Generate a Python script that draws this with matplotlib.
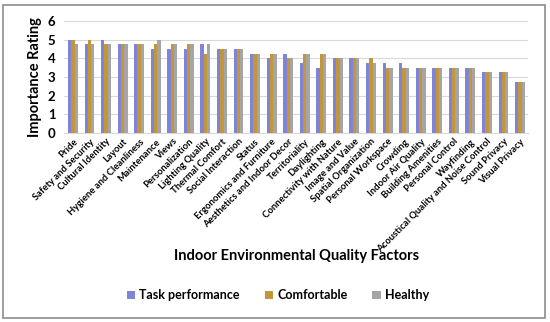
import matplotlib
matplotlib.use("Agg")
import matplotlib.pyplot as plt
from matplotlib.patches import Rectangle
import numpy as np

plt.rcParams['font.family'] = ['Lato', 'DejaVu Sans']

factors = ["Pride", "Safety and Security", "Cultural Identity", "Layout",
           "Hygiene and Cleanliness", "Maintenance", "Views", "Personalization",
           "Lighting Quality", "Thermal Comfort", "Social Interaction", "Status",
           "Ergonomics and Furniture", "Aesthetics and Indoor Decor", "Territoriality",
           "Daylighting", "Connectivity with Nature", "Image and Value",
           "Spatial Organization", "Personal Workspace", "Crowding",
           "Indoor Air Quality", "Building Amenities", "Personal Control",
           "Wayfinding", "Acoustical Quality and Noise Control", "Sound Privacy",
           "Visual Privacy"]

task_perf = [5.0, 4.75, 5.0, 4.75, 4.75, 4.5, 4.5, 4.5, 4.75, 4.5, 4.5, 4.25, 4.0, 4.25,
             3.75, 3.5, 4.0, 4.0, 3.75, 3.75, 3.75, 3.5, 3.5, 3.5, 3.5, 3.25, 3.25, 2.75]
comfortable = [5.0, 5.0, 4.75, 4.75, 4.75, 4.75, 4.75, 4.75, 4.25, 4.5, 4.5, 4.25, 4.25, 4.0,
               4.25, 4.25, 4.0, 4.0, 4.0, 3.5, 3.5, 3.5, 3.5, 3.5, 3.5, 3.25, 3.25, 2.75]
healthy = [4.75, 4.75, 4.75, 4.75, 4.75, 5.0, 4.75, 4.75, 4.75, 4.5, 4.5, 4.25, 4.25, 4.0,
           4.25, 4.25, 4.0, 4.0, 3.75, 3.5, 3.5, 3.5, 3.5, 3.5, 3.5, 3.25, 3.25, 2.75]

series = ["Task performance", "Comfortable", "Healthy"]
colors = ["#7F84D6", "#C4963A", "#A5A5A5"]

fig = plt.figure(figsize=(5.5, 3.22), dpi=100)
ax = fig.add_axes([0.116, 0.587, 0.844, 0.348])

x = np.arange(len(factors))
w = 0.2
for i, (vals, name, c) in enumerate(zip([task_perf, comfortable, healthy], series, colors)):
    ax.bar(x + (i - 1) * w, vals, w, color=c, label=name, zorder=3)

ax.set_xlim(-0.55, len(factors) - 0.52)
ax.set_ylim(0, 6)
ax.set_yticks(range(0, 7))
ax.yaxis.grid(True, color="#D9D9D9", linewidth=0.8, zorder=0)
for s in ["top", "right", "left"]:
    ax.spines[s].set_visible(False)
ax.spines["bottom"].set_color("#D9D9D9")
ax.tick_params(axis="both", length=0)
ax.tick_params(axis="y", labelsize=9.5, pad=6)
for t in ax.get_yticklabels():
    t.set_fontweight("bold")
ax.set_xticks(x)
ax.set_xticklabels(factors, rotation=45, ha="right", va="top",
                   rotation_mode="anchor", fontsize=6.8, fontweight="bold")
ax.tick_params(axis="x", pad=3)
ax.set_ylabel("Importance Rating", fontsize=10.5, fontweight="bold", labelpad=4)

fig.text(0.54, 0.205, "Indoor Environmental Quality Factors", ha="center", va="center",
         fontsize=10.5, fontweight="bold")
fig.legend(loc="center", bbox_to_anchor=(0.505, 0.083), ncol=3, frameon=False,
           prop={"weight": "bold", "size": 9}, handlelength=0.7, handleheight=0.7,
           handletextpad=0.3, columnspacing=2.0)

fig.patches.append(Rectangle((0.006, 0.012), 0.985, 0.972, transform=fig.transFigure,
                             fill=False, edgecolor="#8C8C8C", linewidth=1.2))

fig.savefig("out.png", dpi=100)
